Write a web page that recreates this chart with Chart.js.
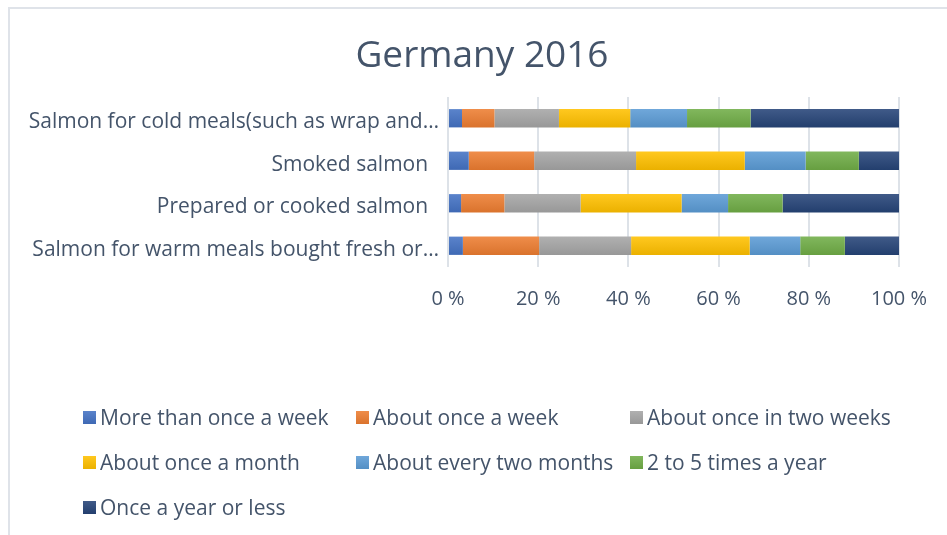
<!DOCTYPE html>
<html>
<head>
<meta charset="utf-8">
<script src="https://cdn.jsdelivr.net/npm/chart.js@4/dist/chart.umd.min.js"></script>
<style>
  body { margin: 0; background: #fff; }
  #wrap { position: relative; width: 947px; height: 535px; overflow: hidden; }
  .frame { position: absolute; left: 8px; top: 7px; width: 1000px; height: 600px;
           border-left: 2px solid #dfe3e9; border-top: 2px solid #dfe3e9; }
  canvas { position: absolute; left: 0; top: 0; }
  #titulo { position: absolute; left: 182px; width: 600px; top: 31px; text-align: center;
            font-family: "Open Sans", sans-serif; font-size: 37px; line-height: 44px; color: #44546a; }
  #legend { position: absolute; left: 0; top: 0; width: 947px; height: 535px;
            font-family: "Open Sans", sans-serif; font-size: 21px; color: #44546a; }
  .item { position: absolute; display: flex; align-items: center; height: 30px; white-space: nowrap; }
  .box { width: 13px; height: 13px; margin-right: 4px; }
</style>
</head>
<body>
<div id="wrap">
  <div class="frame"></div>
  <canvas id="grafico" width="947" height="535"></canvas>
  <div id="titulo">Germany 2016</div>
  <div id="legend"></div>
</div>
<script>
// categorias (de cima para baixo)
const categorias = [
  'Salmon for cold meals(such as wrap and…',
  'Smoked salmon',
  'Prepared or cooked salmon',
  'Salmon for warm meals bought fresh or…',
];

// valores em %
const maisDeUmaVezSemana = [3.1, 4.6, 2.9, 3.3];
const umaVezSemana = [7.2, 14.5, 9.6, 16.9];
const umaVezDuasSemanas = [14.3, 22.6, 16.9, 20.4];
const umaVezMes = [15.8, 24.1, 22.4, 26.3];
const cadaDoisMeses = [12.6, 13.5, 10.3, 11.2];
const duasCincoVezesAno = [14.1, 11.8, 12.1, 9.9];
const umaVezAnoOuMenos = [32.9, 9.0, 25.9, 12.1];

const nomesSeries = [
  'More than once a week',
  'About once a week',
  'About once in two weeks',
  'About once a month',
  'About every two months',
  '2 to 5 times a year',
  'Once a year or less',
];
const valoresSeries = [
  maisDeUmaVezSemana, umaVezSemana, umaVezDuasSemanas, umaVezMes,
  cadaDoisMeses, duasCincoVezesAno, umaVezAnoOuMenos,
];
const cores = ['#4472c4', '#ed7d31', '#a5a5a5', '#ffc000', '#5b9bd5', '#70ad47', '#264478'];

const xTicks = [0, 20, 40, 60, 80, 100];

// clarear / escurecer uma cor hex
function tom(hex, f) {
  const n = parseInt(hex.slice(1), 16);
  let r = (n >> 16) & 255, g = (n >> 8) & 255, b = n & 255;
  if (f > 0) { r += (255 - r) * f; g += (255 - g) * f; b += (255 - b) * f; }
  else { r *= 1 + f; g *= 1 + f; b *= 1 + f; }
  return 'rgb(' + Math.round(r) + ',' + Math.round(g) + ',' + Math.round(b) + ')';
}

// gradiente vertical em cada barra, como no Excel
function corBarra(base) {
  return function (ctx) {
    const y = ctx.chart.scales && ctx.chart.scales.y;
    if (!y || ctx.dataIndex === undefined || isNaN(y.getPixelForValue(ctx.dataIndex))) return base;
    const c = y.getPixelForValue(ctx.dataIndex);
    const g = ctx.chart.ctx.createLinearGradient(0, c - 9, 0, c + 9);
    g.addColorStop(0, tom(base, 0.12));
    g.addColorStop(1, tom(base, -0.08));
    return g;
  };
}

const dadosGrafico = {
  labels: categorias,
  datasets: nomesSeries.map((nome, i) => ({
    label: nome,
    data: valoresSeries[i],
    backgroundColor: corBarra(cores[i]),
    borderWidth: 0,
    barPercentage: 0.43,
    categoryPercentage: 1,
  })),
};

const configGrafico = {
  type: 'bar',
  data: dadosGrafico,
  options: {
    indexAxis: 'y',
    responsive: false,
    animation: false,
    layout: { padding: { left: 0, right: 43, top: 97, bottom: 204 } },
    plugins: {
      legend: { display: false },
      tooltip: { enabled: false },
      title: { display: false },
    },
    scales: {
      x: {
        stacked: true,
        min: 0,
        max: 100,
        afterBuildTicks: (s) => { s.ticks = xTicks.map(v => ({ value: v })); },
        ticks: {
          padding: 20,
          color: '#44546a',
          font: { family: 'Open Sans', size: 20 },
          callback: (v) => v + ' %',
        },
        grid: { color: '#dde2e8', lineWidth: 2, drawTicks: false },
        border: { display: false },
      },
      y: {
        stacked: true,
        afterFit: (s) => { s.width = 448; },
        ticks: {
          padding: 1,
          labelOffset: 4,
          color: '#44546a',
          font: { family: 'Open Sans', size: 21 },
          callback: function (v) {
            const l = this.getLabelForValue(v);
            return l.endsWith('…') ? l : l + '  ';
          },
        },
        grid: { display: false },
        border: { display: false },
      },
    },
  },
};

const meuGrafico = new Chart(document.getElementById('grafico'), configGrafico);

// legenda em tres colunas
const colunasX = [83, 356, 630];
const linhasY = [417, 462, 507];
const legenda = document.getElementById('legend');
nomesSeries.forEach((nome, i) => {
  const el = document.createElement('div');
  el.className = 'item';
  el.style.left = colunasX[i % 3] + 'px';
  el.style.top = (linhasY[Math.floor(i / 3)] - 15) + 'px';
  el.innerHTML = '<span class="box" style="background:linear-gradient(' + tom(cores[i], 0.12) + ',' + tom(cores[i], -0.08) + ')"></span><span></span>';
  el.lastChild.textContent = nome;
  legenda.appendChild(el);
});
</script>
</body>
</html>
